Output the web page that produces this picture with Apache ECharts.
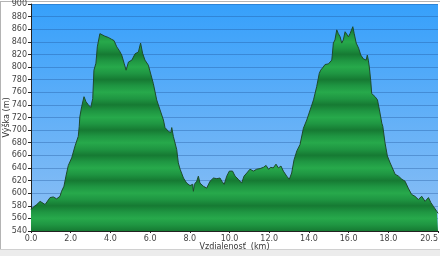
<!DOCTYPE html>
<html><head><meta charset="utf-8">
<script src="https://cdn.jsdelivr.net/npm/echarts@6/dist/echarts.min.js"></script>
<style>html,body{margin:0;padding:0;background:#fff}#c{width:440px;height:256px}</style>
</head><body><div id="c"></div>
<script>
const distanceKm = [0.00,0.12,0.29,0.46,0.54,0.71,0.79,0.96,1.12,1.29,1.46,1.54,1.66,1.76,1.88,2.05,2.22,2.38,2.43,2.46,2.55,2.67,2.77,2.89,3.01,3.11,3.17,3.27,3.34,3.47,3.56,3.72,3.89,4.06,4.18,4.32,4.45,4.57,4.69,4.79,4.91,5.08,5.24,5.41,5.52,5.62,5.74,5.91,5.99,6.16,6.33,6.50,6.67,6.75,6.92,7.04,7.09,7.17,7.34,7.42,7.51,7.68,7.84,8.01,8.14,8.18,8.23,8.35,8.43,8.51,8.68,8.85,9.02,9.19,9.36,9.52,9.61,9.73,9.86,9.99,10.15,10.28,10.44,10.61,10.73,10.87,11.03,11.12,11.20,11.37,11.54,11.71,11.84,11.96,12.08,12.20,12.34,12.46,12.59,12.71,12.88,13.01,13.13,13.25,13.39,13.55,13.72,13.89,14.06,14.23,14.39,14.52,14.59,14.64,14.72,14.81,14.98,15.15,15.23,15.31,15.40,15.48,15.57,15.65,15.73,15.82,15.90,15.99,16.07,16.21,16.28,16.38,16.50,16.61,16.74,16.88,16.94,16.99,17.04,17.11,17.16,17.33,17.45,17.55,17.67,17.72,17.83,17.95,18.09,18.17,18.34,18.51,18.68,18.84,18.92,19.00,19.17,19.34,19.51,19.68,19.85,20.02,20.14,20.27,20.44,20.50];
const elevationM = [574,578,582,587,589,582,580,593,594,591,595,603,611,627,644,656,675,690,706,721,737,753,745,740,736,750,795,806,832,853,852,849,847,844,842,832,826,819,806,795,808,811,821,824,838,822,811,803,806,774,748,732,716,704,698,696,704,690,669,648,638,624,616,612,614,603,614,619,627,616,611,608,619,624,623,624,619,614,627,635,635,627,622,616,627,632,638,641,635,638,639,641,644,638,641,640,646,640,643,635,627,622,632,653,667,677,703,716,732,748,769,790,795,797,800,804,805,811,838,843,859,853,848,838,843,856,853,848,853,864,853,838,830,819,813,811,819,811,800,779,758,753,748,732,711,706,680,659,648,645,630,627,622,619,622,608,598,595,590,595,587,593,585,579,571,568];
const xTickValues = [0, 2, 4, 6, 8, 10, 12, 14, 16, 18, 20.5];
const yMin = 540, yMax = 900, yStep = 20, bandStep = 40;
const xName = 'Vzdialenosť  (km)';
const yName = 'Výška (m)';

const points = distanceKm.map((d, i) => [d, elevationM[i]]);
const chart = echarts.init(document.getElementById('c'), null, {renderer: 'canvas'});
const font = 'DejaVu Sans';
const option = {
  animation: false,
  backgroundColor: '#ffffff',
  graphic: [
    {type: 'rect', shape: {x: 0, y: 249, width: 440, height: 7}, style: {fill: '#ececec'}, silent: true, z: -10},
    {type: 'line', shape: {x1: 0, y1: 1.5, x2: 440, y2: 1.5}, style: {stroke: '#b4b4b4', lineWidth: 1}, silent: true},
    {type: 'line', shape: {x1: 0.5, y1: 1, x2: 0.5, y2: 249}, style: {stroke: '#b4b4b4', lineWidth: 1}, silent: true},
    {type: 'line', shape: {x1: 0, y1: 249.5, x2: 440, y2: 249.5}, style: {stroke: '#d0d0d0', lineWidth: 1}, silent: true}
  ],
  grid: {
    left: 31, right: 2, top: 4, bottom: 25,
    outerBoundsMode: 'none',
    containLabel: false,
    show: true,
    borderWidth: 0,
    backgroundColor: new echarts.graphic.LinearGradient(0, 0, 0, 1, [
      {offset: 0, color: '#36a0fb'},
      {offset: 1, color: '#8fc0f4'}
    ])
  },
  xAxis: {
    type: 'value', min: 0, max: 20.5,
    name: xName, nameLocation: 'middle', nameGap: 12, nameMoveOverlap: false,
    nameTextStyle: {fontFamily: font, fontSize: 8, color: '#333', verticalAlign: 'top'},
    axisLine: {show: true, lineStyle: {color: '#222', width: 1}},
    axisTick: {show: true, length: 2, lineStyle: {color: '#222'}, customValues: xTickValues},
    axisLabel: {fontFamily: font, fontSize: 8, color: '#444', margin: 4,
      customValues: xTickValues, formatter: v => v.toFixed(1), alignMaxLabel: 'right'},
    splitLine: {show: false}
  },
  yAxis: {
    type: 'value', min: yMin, max: yMax, interval: yStep,
    name: yName, nameLocation: 'middle', nameGap: 20, nameRotate: 90, nameMoveOverlap: false,
    nameTextStyle: {fontFamily: font, fontSize: 8, color: '#333'},
    axisLine: {show: true, lineStyle: {color: '#222', width: 1}},
    axisTick: {show: true, length: 3, lineStyle: {color: '#222'}},
    axisLabel: {fontFamily: font, fontSize: 8, color: '#444', margin: 4},
    splitLine: {show: true, lineStyle: {color: 'rgba(30,80,150,0.35)', width: 1}}
  },
  series: [{
    type: 'line',
    data: points,
    showSymbol: false,
    smooth: false,
    lineStyle: {color: '#1e4a2c', width: 1},
    areaStyle: {origin: 'start', color: '#1f9e45', opacity: 1},
    z: 3
  }]
};
chart.setOption(option);

// banded green gradient aligned to 40 m bands
const yTop = chart.convertToPixel({yAxisIndex: 0}, yMax);
const yBot = chart.convertToPixel({yAxisIndex: 0}, yMin);
const stops = [];
const dark = '#167a33', mid = '#1f9642', light = '#27a94b';
const nBands = (yMax - yMin) / bandStep;
for (let b = 0; b < nBands; b++) {
  const o0 = b / nBands, w = 1 / nBands;
  stops.push({offset: o0, color: dark});
  stops.push({offset: o0 + w * 0.25, color: mid});
  stops.push({offset: o0 + w * 0.5, color: light});
  stops.push({offset: o0 + w * 0.75, color: mid});
  stops.push({offset: Math.min(1, o0 + w * 0.999), color: dark});
}
chart.setOption({series: [{areaStyle: {color: new echarts.graphic.LinearGradient(0, yTop, 0, yBot, stops, true)}}]});
</script></body></html>
